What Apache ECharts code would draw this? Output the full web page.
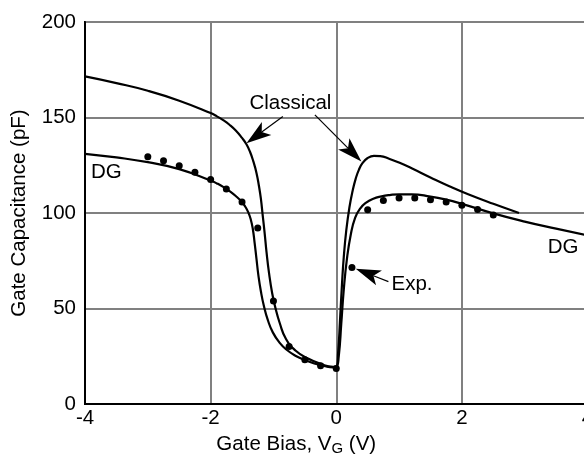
<!DOCTYPE html>
<html><head><meta charset="utf-8">
<script src="https://cdn.jsdelivr.net/npm/echarts@6/dist/echarts.min.js"></script>
<style>html,body{margin:0;padding:0;background:#fff}#c{width:584px;height:456px}</style>
</head><body><div id="c"></div>
<script>
const xTicks = [-4, -2, 0, 2, 4];
const yTicks = [0, 50, 100, 150, 200];

const classical = [
  [-4, 171.5], [-3.5, 168.0], [-3.0, 164.0], [-2.5, 158.8], [-2.0, 152.3], [-1.9, 150.6], [-1.8, 148.6],
  [-1.7, 146.2], [-1.6, 143.2], [-1.5, 139.3], [-1.43, 136.0], [-1.37, 131.8], [-1.32, 127.0],
  [-1.27, 121.0], [-1.23, 114.0], [-1.2, 107.5], [-1.17, 98.5], [-1.14, 89.5], [-1.11, 79.5],
  [-1.07, 68.5], [-1.02, 58.0], [-0.97, 50.5], [-0.9, 42.4], [-0.8, 34.0], [-0.65, 28.0],
  [-0.45, 23.8], [-0.25, 21.0], [-0.05, 19.5], [0.0, 19.6], [0.03, 27], [0.06, 44], [0.09, 62],
  [0.12, 77], [0.16, 91], [0.21, 103], [0.26, 111.5], [0.31, 118], [0.36, 122.6], [0.42, 126.2],
  [0.5, 128.8], [0.6, 129.9], [0.7, 129.8], [0.85, 128.3], [1.0, 126.4],
  [1.2, 123.4], [1.5, 118.6], [1.8, 114.0], [2.1, 109.8], [2.5, 104.8], [2.91, 100.0]
];

const dg = [
  [-4, 131.0], [-3.5, 129.1], [-3.0, 126.6], [-2.5, 123.0], [-2.0, 117.0], [-1.9, 115.5], [-1.8, 113.7],
  [-1.7, 111.5], [-1.6, 108.9], [-1.5, 105.7], [-1.45, 103.4], [-1.4, 100.3], [-1.36, 96.5],
  [-1.33, 92.0], [-1.3, 84.5], [-1.27, 76.0], [-1.24, 67.5], [-1.2, 59.0], [-1.15, 51.0],
  [-1.09, 44.0], [-1.01, 37.5], [-0.9, 32.0], [-0.79, 28.4], [-0.65, 25.3], [-0.5, 23.0],
  [-0.35, 21.2], [-0.2, 20.0], [-0.05, 19.2], [0.0, 19.3], [0.04, 25], [0.08, 42], [0.12, 60],
  [0.17, 76], [0.23, 88.5], [0.3, 97.5], [0.38, 102.3], [0.47, 105.3], [0.59, 107.5], [0.72, 108.7],
  [0.85, 109.4], [1.0, 109.8], [1.2, 109.8], [1.5, 108.6], [1.75, 107.0], [2.0, 104.8],
  [2.5, 99.8], [3.0, 95.5], [3.5, 91.8], [4.0, 88.3]
];

const experimental = [
  [-3.0, 129.4], [-2.75, 127.3], [-2.5, 124.7], [-2.25, 121.4], [-2.0, 117.5], [-1.75, 112.6],
  [-1.5, 105.7], [-1.25, 92.2], [-1.0, 53.9], [-0.75, 30.1], [-0.5, 23.2], [-0.25, 20.0], [0, 18.6],
  [0.25, 71.5], [0.5, 101.7], [0.75, 106.5], [1.0, 107.8], [1.25, 107.8], [1.5, 106.9], [1.75, 105.7],
  [2.0, 104.1], [2.25, 101.8], [2.5, 99.0]
];

const labelTexts = ['Classical', 'DG', 'DG', 'Exp.'];
const labelPos = [[-0.73, 157.6], [-3.66, 121.2], [3.61, 81.8], [0.88, 62.6]];
const labelAlign = ['center', 'center', 'center', 'left'];

const arrowTail = [[-0.85, 150.5], [-0.34, 151.4], [0.83, 64.1]];
const arrowTip = [[-1.43, 136.5], [0.40, 126.9], [0.31, 70.8]];

const FONT = "'Liberation Sans', Arial, Helvetica, sans-serif";
const FS = 20.5;

const chart = echarts.init(document.getElementById('c'), null, {renderer: 'canvas'});

const option = {
  animation: false,
  backgroundColor: '#fff',
  grid: {left: 85, top: 22, bottom: 52, right: -3.5, outerBoundsMode: 'none', containLabel: false,
         show: true, borderColor: '#000', borderWidth: 2},
  xAxis: {
    type: 'value', min: xTicks[0], max: xTicks[xTicks.length - 1], interval: 2,
    axisLine: {show: true, onZero: false, lineStyle: {color: '#000', width: 2}},
    axisTick: {show: false},
    splitLine: {show: true, lineStyle: {color: '#808080', width: 2}},
    axisLabel: {color: '#000', fontSize: FS, fontFamily: FONT, margin: 4, showMaxLabel: true, showMinLabel: true,
                hideOverlap: false},
    name: 'Gate Bias, V{sub|G} (V)',
    nameLocation: 'middle',
    nameGap: 28,
    nameTextStyle: {
      color: '#000', fontSize: FS, fontFamily: FONT, padding: [0, 80, 0, 0],
      rich: {sub: {fontSize: 15, fontFamily: FONT, color: '#000', padding: [9, 0, 0, 0]}}
    }
  },
  yAxis: {
    type: 'value', min: yTicks[0], max: yTicks[yTicks.length - 1], interval: 50,
    axisLine: {show: true, onZero: false, lineStyle: {color: '#000', width: 2}},
    axisTick: {show: false},
    splitLine: {show: true, lineStyle: {color: '#808080', width: 2}},
    axisLabel: {color: '#000', fontSize: FS, fontFamily: FONT, margin: 9},
    name: 'Gate Capacitance (pF)',
    nameLocation: 'middle',
    nameGap: 55,
    nameTextStyle: {color: '#000', fontSize: FS, fontFamily: FONT}
  },
  series: [
    {name: 'Classical', type: 'line', data: classical, showSymbol: false, smooth: 0.5,
     lineStyle: {color: '#000', width: 2.2}, z: 3},
    {name: 'DG', type: 'line', data: dg, showSymbol: false, smooth: 0.5,
     lineStyle: {color: '#000', width: 2.2}, z: 3},
    {name: 'Exp.', type: 'scatter', data: experimental, symbolSize: 7,
     itemStyle: {color: '#000', opacity: 1}, z: 4}
  ]
};
chart.setOption(option);

function px(p) { return chart.convertToPixel({gridIndex: 0}, p); }
const graphics = [];
labelTexts.forEach((t, i) => {
  const p = px(labelPos[i]);
  graphics.push({type: 'text', x: p[0], y: p[1], z: 10,
    style: {text: t, fill: '#000', font: FS + 'px ' + FONT, align: labelAlign[i], verticalAlign: 'middle'}});
});
arrowTail.forEach((tail, i) => {
  const a = px(tail), b = px(arrowTip[i]);
  const dx = b[0] - a[0], dy = b[1] - a[1];
  const L = Math.hypot(dx, dy), ux = dx / L, uy = dy / L;
  const nx = -uy, ny = ux;
  const hl = 25, hw = 8, notch = 19;
  const back = [b[0] - ux * hl, b[1] - uy * hl];
  const nb = [b[0] - ux * notch, b[1] - uy * notch];
  graphics.push({type: 'line', z: 10, shape: {x1: a[0], y1: a[1], x2: nb[0], y2: nb[1]},
    style: {stroke: '#000', lineWidth: 1.2}});
  graphics.push({type: 'polygon', z: 10, shape: {points: [
    b, [back[0] + nx * hw, back[1] + ny * hw], nb, [back[0] - nx * hw, back[1] - ny * hw]]},
    style: {fill: '#000'}});
});
chart.setOption({graphic: graphics});
</script></body></html>
